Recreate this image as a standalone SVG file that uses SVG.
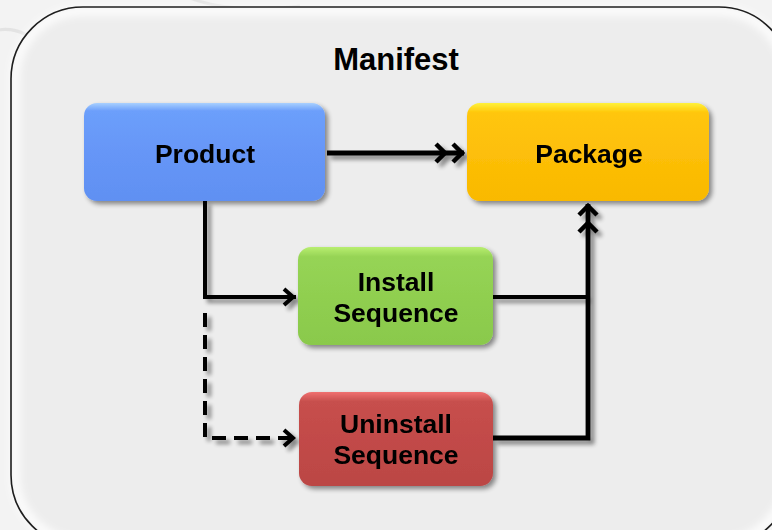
<svg xmlns="http://www.w3.org/2000/svg" width="772" height="530" viewBox="0 0 772 530">
<defs>
<style>
.lbl{font-family:"Liberation Sans",Arial,sans-serif;font-weight:bold;font-size:26.5px;fill:#000;text-anchor:middle}
.ttl{font-family:"Liberation Sans",Arial,sans-serif;font-weight:bold;font-size:31px;fill:#000;text-anchor:middle}
.con{fill:none;stroke:#000;stroke-width:4;stroke-linecap:butt;stroke-linejoin:miter}
.thick{stroke-width:4.8}
.dash{stroke-dasharray:14 8}
.node{stroke:none}
</style>
<linearGradient id="gBlue" x1="0" y1="0" x2="0" y2="1">
<stop offset="0" stop-color="#a8d0ff"/><stop offset="0.08" stop-color="#6c9ffb"/><stop offset="0.5" stop-color="#6696f7"/><stop offset="1" stop-color="#6090f2"/>
</linearGradient>
<linearGradient id="gYel" x1="0" y1="0" x2="0" y2="1">
<stop offset="0" stop-color="#fff23a"/><stop offset="0.1" stop-color="#ffc60a"/><stop offset="0.5" stop-color="#fdbf08"/><stop offset="1" stop-color="#f9b900"/>
</linearGradient>
<linearGradient id="gGrn" x1="0" y1="0" x2="0" y2="1">
<stop offset="0" stop-color="#b8ee70"/><stop offset="0.1" stop-color="#96d455"/><stop offset="0.5" stop-color="#90cf50"/><stop offset="1" stop-color="#8ac94c"/>
</linearGradient>
<linearGradient id="gRed" x1="0" y1="0" x2="0" y2="1">
<stop offset="0" stop-color="#f07070"/><stop offset="0.1" stop-color="#c74f4d"/><stop offset="0.5" stop-color="#c24a48"/><stop offset="1" stop-color="#bb4644"/>
</linearGradient>
<filter id="sh" x="-10%" y="-10%" width="130%" height="130%">
<feGaussianBlur in="SourceAlpha" stdDeviation="2.5"/>
<feOffset dx="3" dy="3" result="b"/>
<feComponentTransfer><feFuncA type="linear" slope="0.45"/></feComponentTransfer>
<feMerge><feMergeNode/><feMergeNode in="SourceGraphic"/></feMerge>
</filter>
<filter id="lsh" x="-20%" y="-20%" width="140%" height="140%">
<feGaussianBlur in="SourceAlpha" stdDeviation="2.2"/>
<feOffset dx="4" dy="4" result="b"/>
<feComponentTransfer><feFuncA type="linear" slope="0.45"/></feComponentTransfer>
<feMerge><feMergeNode/><feMergeNode in="SourceGraphic"/></feMerge>
</filter>
<filter id="bev" x="-5%" y="-5%" width="110%" height="110%">
<feGaussianBlur stdDeviation="4"/>
</filter>
<marker id="dbl" viewBox="0 0 38 24" refX="34" refY="12" markerWidth="38" markerHeight="24" markerUnits="userSpaceOnUse" orient="auto">
<path d="M6 3 L15 12 L6 21 M23 3 L32 12 L23 21" fill="none" stroke="#000" stroke-width="4.5"/>
</marker>
<marker id="sgl" viewBox="0 0 20 24" refX="17" refY="12" markerWidth="20" markerHeight="24" markerUnits="userSpaceOnUse" orient="auto">
<path d="M5 4 L14 12 L5 20" fill="none" stroke="#000" stroke-width="4"/>
</marker>
</defs>
<rect x="0" y="0" width="772" height="530" fill="#f3f3f3"/>
<path d="M-10 32 A45 45 0 0 1 20 120" fill="none" stroke="#d8d8d8" stroke-width="3" opacity="0.6"/>
<path d="M190 -2 Q230 14 300 6" fill="none" stroke="#d8d8d8" stroke-width="3" opacity="0.6"/>
<g id="manifest">
<rect x="11" y="7" width="780" height="540" rx="72" ry="72" fill="#ededed"/>
<rect x="15" y="11" width="772" height="532" rx="68" ry="68" fill="none" stroke="#ffffff" stroke-width="8" filter="url(#bev)"/>
<rect x="11" y="7" width="780" height="540" rx="72" ry="72" fill="none" stroke="#1e1e1e" stroke-width="1.6"/>
<text class="ttl" x="396" y="70">Manifest</text>
</g>
<g id="connectors" filter="url(#lsh)">
<path class="con thick" d="M327 153 H464" marker-end="url(#dbl)"/>
<path class="con" d="M205 201 V297 H296" marker-end="url(#sgl)"/>
<path class="con dash" d="M205 313 V438 H296" marker-end="url(#sgl)"/>
<path class="con" d="M493 297 H588"/>
<path class="con thick" d="M493 438 H588 V204" marker-end="url(#dbl)"/>
</g>
<g id="product" filter="url(#sh)">
<rect class="node" x="84" y="103" width="241" height="98" rx="13" fill="url(#gBlue)"/>
<text class="lbl" x="205" y="163">Product</text>
</g>
<g id="package" filter="url(#sh)">
<rect class="node" x="467" y="103" width="242" height="98" rx="13" fill="url(#gYel)"/>
<text class="lbl" x="589" y="163">Package</text>
</g>
<g id="install" filter="url(#sh)">
<rect class="node" x="298" y="247" width="195" height="98" rx="13" fill="url(#gGrn)"/>
<text class="lbl" x="396" y="291">Install</text>
<text class="lbl" x="396" y="322">Sequence</text>
</g>
<g id="uninstall" filter="url(#sh)">
<rect class="node" x="299" y="392" width="194" height="94" rx="13" fill="url(#gRed)"/>
<text class="lbl" x="396" y="433">Uninstall</text>
<text class="lbl" x="396" y="464">Sequence</text>
</g>
</svg>
